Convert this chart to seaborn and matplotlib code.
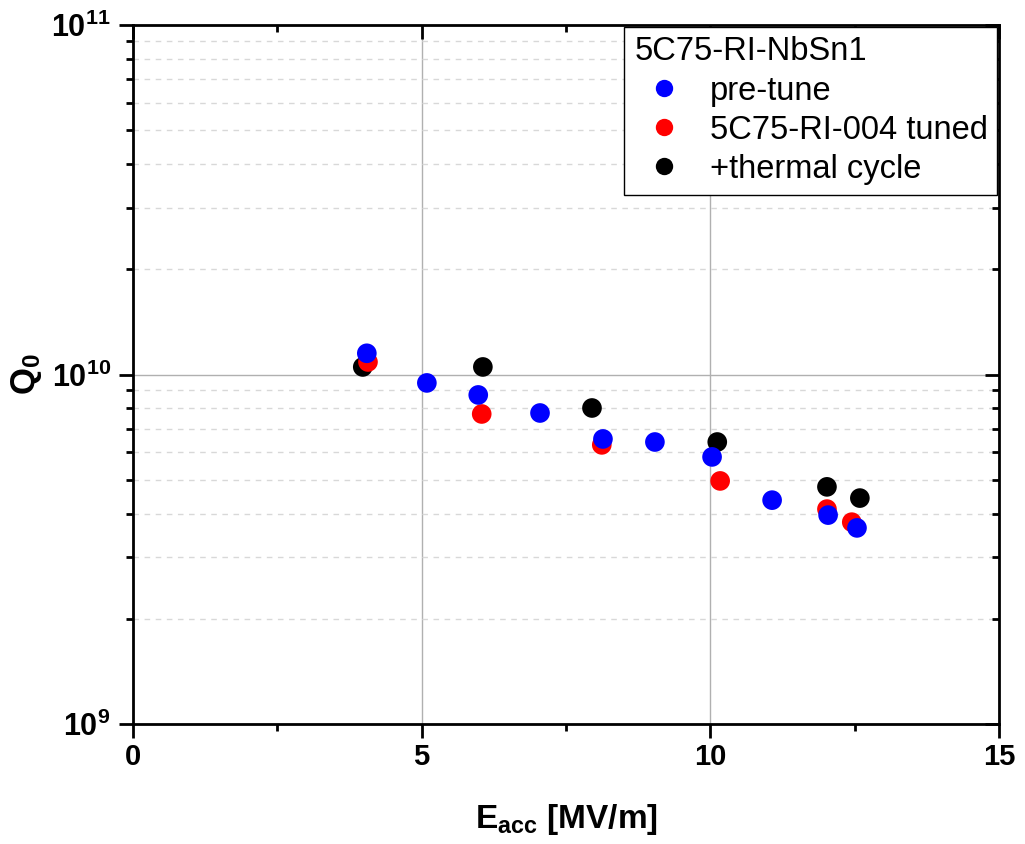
import matplotlib
matplotlib.use("Agg")
import matplotlib.pyplot as plt
import matplotlib.ticker as mticker
import numpy as np
import pandas as pd
import seaborn as sns

# ---- data ----
pre_x = [4.05, 5.09, 5.98, 7.05, 8.14, 9.04, 10.03, 11.07, 12.04, 12.54]
pre_q = [1.15e10, 9.46e9, 8.74e9, 7.76e9, 6.54e9, 6.41e9, 5.81e9, 4.37e9, 3.96e9, 3.64e9]
tuned_x = [4.07, 6.04, 8.12, 10.17, 12.02, 12.45]
tuned_q = [1.086e10, 7.71e9, 6.29e9, 4.96e9, 4.12e9, 3.78e9]
tc_x = [3.98, 6.06, 7.95, 10.12, 12.02, 12.59]
tc_q = [1.051e10, 1.051e10, 8.02e9, 6.41e9, 4.77e9, 4.43e9]
series = ["pre-tune", "5C75-RI-004 tuned", "+thermal cycle"]
colors = ["#0000ff", "#ff0000", "#000000"]
legend_title = "5C75-RI-NbSn1"
x_ticks = [0, 5, 10, 15]

df = pd.concat([
    pd.DataFrame({"E": pre_x, "Q": pre_q, "series": series[0]}),
    pd.DataFrame({"E": tuned_x, "Q": tuned_q, "series": series[1]}),
    pd.DataFrame({"E": tc_x, "Q": tc_q, "series": series[2]}),
], ignore_index=True)

sns.set_style("white")
plt.rcParams["font.family"] = ["Liberation Sans", "DejaVu Sans"]
plt.rcParams["mathtext.fontset"] = "custom"
plt.rcParams["mathtext.rm"] = "Liberation Sans"
plt.rcParams["mathtext.bf"] = "Liberation Sans:bold"
plt.rcParams["mathtext.it"] = "Liberation Sans:italic"
plt.rcParams["text.color"] = "black"
plt.rcParams["axes.labelcolor"] = "black"
plt.rcParams["xtick.color"] = "black"
plt.rcParams["ytick.color"] = "black"

fig = plt.figure(figsize=(10.25, 8.44), dpi=100)
ax = fig.add_axes([133 / 1025, 1 - 724 / 844, (999 - 133) / 1025, (724 - 25) / 844])

pal = dict(zip(series, colors))
# draw in reverse order so blue is on top
for i, s in enumerate(reversed(series)):
    sub = df[df["series"] == s]
    sns.scatterplot(data=sub, x="E", y="Q", color=pal[s], s=200, edgecolor="none",
                    ax=ax, zorder=3 + i, legend=False)

ax.set_yscale("log")
ax.set_xlim(0, 15)
ax.set_ylim(1e9, 1e11)

ax.set_xticks(x_ticks)
ax.xaxis.set_minor_locator(mticker.MultipleLocator(2.5))
ax.yaxis.set_major_locator(mticker.LogLocator(base=10))
ax.yaxis.set_minor_locator(mticker.LogLocator(base=10, subs=np.arange(2, 10)))
ax.yaxis.set_minor_formatter(mticker.NullFormatter())
ax.yaxis.set_major_formatter(mticker.FuncFormatter(
    lambda v, p: r"$\mathbf{10^{%d}}$" % int(round(np.log10(v)))))
ax.set_xticklabels([str(t) for t in x_ticks], fontweight="bold")

ax.tick_params(axis="both", which="both", left=True, bottom=True, top=True, right=True,
               direction="out", color="black", width=2)
ax.tick_params(axis="both", which="major", length=10, pad=4)
ax.tick_params(axis="both", which="minor", length=5)
ax.tick_params(axis="x", which="major", labelsize=21)
ax.tick_params(axis="y", which="major", labelsize=22, pad=6)
# inward ticks on top and right
for t in ax.xaxis.get_major_ticks() + ax.xaxis.get_minor_ticks():
    t.tick2line.set_marker(matplotlib.lines.TICKDOWN)
for t in ax.yaxis.get_major_ticks() + ax.yaxis.get_minor_ticks():
    t.tick2line.set_marker(matplotlib.lines.TICKLEFT)

for sp in ax.spines.values():
    sp.set_visible(True)
    sp.set_color("black")
    sp.set_linewidth(2)

ax.grid(True, which="major", axis="both", color="#b0b0b0", linewidth=1, linestyle="-")
ax.grid(True, which="minor", axis="y", color="#d8d8d8", linewidth=1, linestyle=(0, (4, 4)))
ax.grid(False, which="minor", axis="x")
ax.set_axisbelow(True)

ax.set_xlabel(r"$\mathbf{E_{acc}}$ [MV/m]", fontsize=24, fontweight="bold", labelpad=22)
ax.set_ylabel(r"$\mathbf{Q_0}$", fontsize=25, fontweight="bold", labelpad=5)

handles = [plt.Line2D([], [], marker="o", linestyle="none", markersize=12.5,
                      markerfacecolor=c, markeredgecolor="none") for c in colors]
leg = ax.legend(handles, series, title=legend_title, loc="upper right",
                bbox_to_anchor=(1.0, 1.0), fontsize=23.5, title_fontsize=23.5,
                alignment="left", frameon=True, fancybox=False, borderpad=0.3,
                labelspacing=0.25, handletextpad=0.46, handlelength=1.85, borderaxespad=0.05)
leg.get_frame().set_edgecolor("black")
leg.get_frame().set_linewidth(1)
leg.get_frame().set_alpha(1)

fig.savefig("out.png", dpi=100)
